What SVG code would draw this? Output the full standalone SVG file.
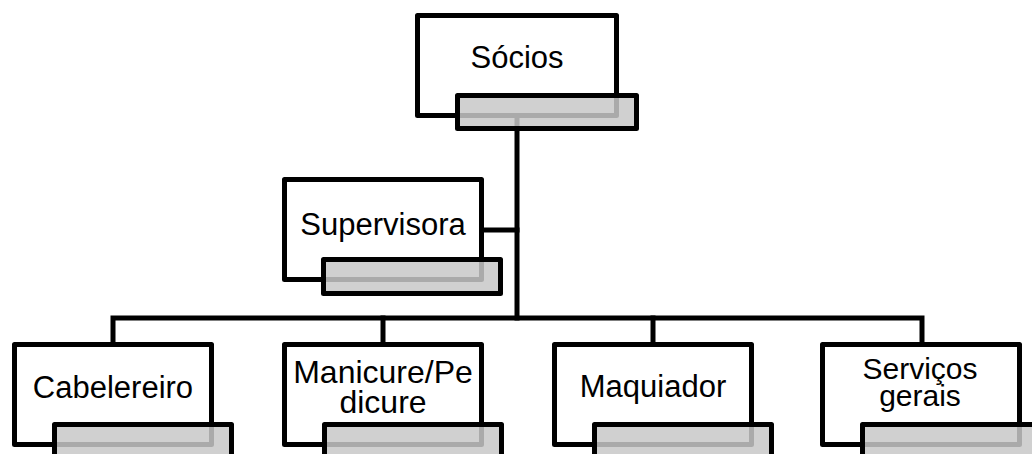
<svg xmlns="http://www.w3.org/2000/svg" width="1032" height="454" viewBox="0 0 1032 454">
<style>
.box{fill:#ffffff;stroke:#000;stroke-width:5;stroke-linejoin:round}
.tab{fill:#c8c8c8;fill-opacity:0.85;stroke:#000;stroke-width:5;stroke-linejoin:round}
.con{fill:none;stroke:#000;stroke-width:5;stroke-linecap:square}
text{font-family:"Liberation Sans",Arial,sans-serif;fill:#000;text-anchor:middle}
</style>
<rect width="1032" height="454" fill="#ffffff"/>
<g id="connectors">
<path class="con" d="M517,116 V318"/>
<path class="con" d="M481,230 H517"/>
<path class="con" d="M113,344 V318 H922 V344"/>
<path class="con" d="M383,318 V344"/>
<path class="con" d="M653,318 V344"/>
</g>
<g id="socios">
<rect class="box" x="417.5" y="15.5" width="199" height="100"/>
<text x="517" y="68" font-size="31">Sócios</text>
<rect class="tab" x="457.5" y="95.5" width="179" height="33"/>
</g>
<g id="supervisora">
<rect class="box" x="284.5" y="179.5" width="197" height="100"/>
<text x="383" y="235" font-size="31">Supervisora</text>
<rect class="tab" x="323.5" y="259.5" width="177" height="34"/>
</g>
<g id="cabelereiro">
<rect class="box" x="14.5" y="344.5" width="197" height="100"/>
<text x="113" y="398" font-size="31">Cabelereiro</text>
<rect class="tab" x="54.5" y="424.5" width="177" height="40"/>
</g>
<g id="manicure">
<rect class="box" x="284.5" y="344.5" width="197" height="100"/>
<text x="383" y="383" font-size="32">Manicure/Pe</text>
<text x="383" y="413" font-size="32">dicure</text>
<rect class="tab" x="324.5" y="424.5" width="177" height="40"/>
</g>
<g id="maquiador">
<rect class="box" x="554.5" y="344.5" width="197" height="100"/>
<text x="653" y="397" font-size="31">Maquiador</text>
<rect class="tab" x="594.5" y="424.5" width="177" height="40"/>
</g>
<g id="servicos">
<rect class="box" x="822.5" y="344.5" width="197" height="100"/>
<text x="920" y="379" font-size="30">Serviços</text>
<text x="920" y="406" font-size="30">gerais</text>
<rect class="tab" x="862.5" y="424.5" width="177" height="40"/>
</g>
</svg>
